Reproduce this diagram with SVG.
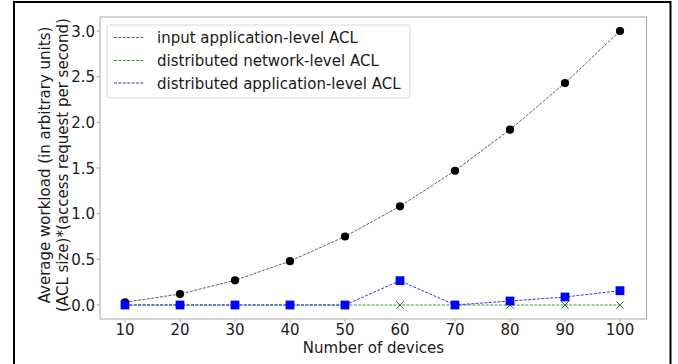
<svg xmlns="http://www.w3.org/2000/svg" width="678" height="364" viewBox="0 0 678 364">
<style>
text{font-family:"DejaVu Sans",sans-serif;font-size:15px;fill:#1a1a1a}
.yt{text-anchor:end}
.xt{text-anchor:middle}
.spine{fill:none;stroke:#a8a8a8;stroke-width:1}
.tick{stroke:#a8a8a8;stroke-width:1}
.lk{fill:none;stroke:#333;stroke-width:0.8;stroke-dasharray:3,1.4}
.lg{fill:none;stroke:#008000;stroke-width:0.8;stroke-dasharray:3,1.4}
.lb{fill:none;stroke:#0000ff;stroke-width:0.8;stroke-dasharray:3,1.4}
</style>
<defs>
<circle id="mk" r="4.1" fill="#000"/>
<rect id="mb" x="-4.4" y="-4.4" width="8.8" height="8.8" fill="#0000ff"/>
<path id="mg" d="M-3.7,-3.7L3.7,3.7M-3.7,3.7L3.7,-3.7" stroke="#008000" stroke-width="0.9" fill="none"/>
</defs>
<rect x="0" y="0" width="678" height="364" fill="#fff"/>
<rect id="frame" x="14" y="2" width="656.5" height="380" fill="none" stroke="#000" stroke-width="2"/>
<g id="axes">
<rect class="spine" x="100" y="17" width="546.5" height="302"/>
<g class="tick">
<line x1="96.5" y1="305" x2="100" y2="305"/>
<line x1="96.5" y1="259.33" x2="100" y2="259.33"/>
<line x1="96.5" y1="213.67" x2="100" y2="213.67"/>
<line x1="96.5" y1="168" x2="100" y2="168"/>
<line x1="96.5" y1="122.33" x2="100" y2="122.33"/>
<line x1="96.5" y1="76.67" x2="100" y2="76.67"/>
<line x1="96.5" y1="31" x2="100" y2="31"/>
<line x1="125" y1="319" x2="125" y2="322.5"/>
<line x1="180" y1="319" x2="180" y2="322.5"/>
<line x1="235" y1="319" x2="235" y2="322.5"/>
<line x1="290" y1="319" x2="290" y2="322.5"/>
<line x1="345" y1="319" x2="345" y2="322.5"/>
<line x1="400" y1="319" x2="400" y2="322.5"/>
<line x1="455" y1="319" x2="455" y2="322.5"/>
<line x1="510" y1="319" x2="510" y2="322.5"/>
<line x1="565" y1="319" x2="565" y2="322.5"/>
<line x1="620" y1="319" x2="620" y2="322.5"/>
</g>
<g id="yticks">
<text class="yt" x="95" y="310.5">0.0</text>
<text class="yt" x="95" y="264.8">0.5</text>
<text class="yt" x="95" y="219.2">1.0</text>
<text class="yt" x="95" y="173.5">1.5</text>
<text class="yt" x="95" y="127.8">2.0</text>
<text class="yt" x="95" y="82.2">2.5</text>
<text class="yt" x="95" y="36.5">3.0</text>
</g>
<g id="xticks">
<text class="xt" x="125" y="334.5">10</text>
<text class="xt" x="180" y="334.5">20</text>
<text class="xt" x="235" y="334.5">30</text>
<text class="xt" x="290" y="334.5">40</text>
<text class="xt" x="345" y="334.5">50</text>
<text class="xt" x="400" y="334.5">60</text>
<text class="xt" x="455" y="334.5">70</text>
<text class="xt" x="510" y="334.5">80</text>
<text class="xt" x="565" y="334.5">90</text>
<text class="xt" x="620" y="334.5">100</text>
</g>
<text id="xlabel" class="xt" x="373.5" y="352.8">Number of devices</text>
<g id="ylabel">
<text class="xt" transform="translate(50,165) rotate(-90)">Average workload (in arbitrary units)</text>
<text class="xt" transform="translate(67.5,165) rotate(-90)">(ACL size)*(access request per second)</text>
</g>
</g>
<g id="connectors">
<polyline class="lk" points="125,302.26 180,294.04 235,280.34 290,261.16 345,236.5 400,206.36 455,170.74 510,129.65 565,83.07 620,31"/>
<polyline class="lg" points="125,305 180,305 235,305 290,305 345,305 400,305 455,305 510,305 565,305 620,305"/>
<polyline class="lb" points="125,305 180,305 235,305 290,305 345,305 400,280.7 455,305 510,301 565,297 620,290.7"/>
</g>
<g id="series-input">
<use href="#mk" x="125" y="302.26"/><use href="#mk" x="180" y="294.04"/><use href="#mk" x="235" y="280.34"/><use href="#mk" x="290" y="261.16"/><use href="#mk" x="345" y="236.5"/><use href="#mk" x="400" y="206.36"/><use href="#mk" x="455" y="170.74"/><use href="#mk" x="510" y="129.65"/><use href="#mk" x="565" y="83.07"/><use href="#mk" x="620" y="31"/>
</g>
<g id="series-network">
<use href="#mg" x="125" y="305"/><use href="#mg" x="180" y="305"/><use href="#mg" x="235" y="305"/><use href="#mg" x="290" y="305"/><use href="#mg" x="345" y="305"/><use href="#mg" x="400" y="305"/><use href="#mg" x="455" y="305"/><use href="#mg" x="510" y="305"/><use href="#mg" x="565" y="305"/><use href="#mg" x="620" y="305"/>
</g>
<g id="series-app">
<use href="#mb" x="125" y="305"/><use href="#mb" x="180" y="305"/><use href="#mb" x="235" y="305"/><use href="#mb" x="290" y="305"/><use href="#mb" x="345" y="305"/><use href="#mb" x="400" y="280.7"/><use href="#mb" x="455" y="305"/><use href="#mb" x="510" y="301"/><use href="#mb" x="565" y="297"/><use href="#mb" x="620" y="290.7"/>
</g>
<g id="legend">
<rect x="107" y="25" width="303" height="73" rx="3" fill="#fff" fill-opacity="0.85" stroke="#d8d8d8" stroke-width="1"/>
<line class="lk" x1="114" y1="37.5" x2="144" y2="37.5"/>
<line class="lg" x1="114" y1="60.5" x2="144" y2="60.5"/>
<line class="lb" x1="114" y1="83" x2="144" y2="83"/>
<text x="157" y="43">input application-level ACL</text>
<text x="157" y="66">distributed network-level ACL</text>
<text x="157" y="88.5">distributed application-level ACL</text>
</g>
</svg>
